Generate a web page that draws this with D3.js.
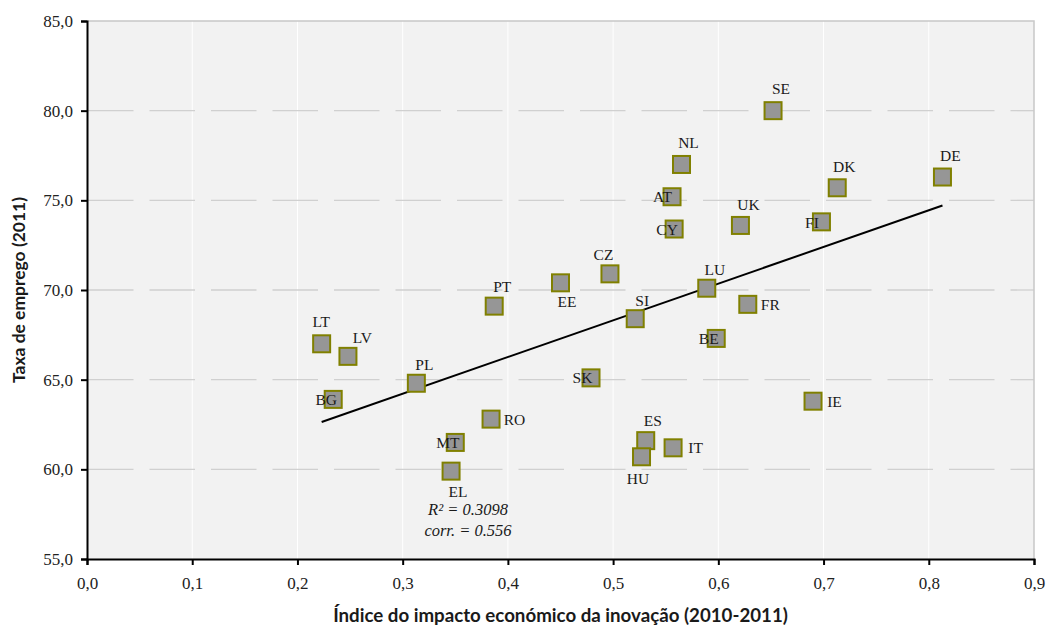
<!DOCTYPE html>
<html><head><meta charset="utf-8">
<script src="https://cdn.jsdelivr.net/npm/d3@7"></script>
<style>body{margin:0;background:#fff}svg{display:block}</style>
</head><body><svg id="c" width="1046" height="626"></svg>
<script>
const countries = ["SE","NL","DK","DE","AT","CY","UK","FI","CZ","EE","PT","LU","SI","FR","BE","LT","LV","PL","SK","BG","IE","RO","MT","EL","ES","HU","IT"];
const innovation = [0.652,0.565,0.713,0.813,0.556,0.558,0.621,0.698,0.497,0.450,0.387,0.589,0.521,0.628,0.598,0.223,0.248,0.313,0.479,0.234,0.690,0.384,0.350,0.346,0.531,0.527,0.557];
const employment = [80.0,77.0,75.7,76.3,75.2,73.4,73.6,73.8,70.9,70.4,69.1,70.1,68.4,69.2,67.3,67.0,66.3,64.8,65.1,63.9,63.8,62.8,61.5,59.9,61.6,60.7,61.2];
const xTicks = [0,0.1,0.2,0.3,0.4,0.5,0.6,0.7,0.8,0.9];
const yTicks = [55,60,65,70,75,80,85];
const statsText = ["R² = 0.3098","corr. = 0.556"];
const xTitle = "Índice do impacto económico da inovação (2010-2011)";
const yTitle = "Taxa de emprego (2011)";

// label placement (layout only): offset of label centre from marker centre
const labelOffset = {SE:[8,-22],NL:[7,-21.5],DK:[7,-21.5],DE:[8,-21.5],UK:[8,-21],AT:[-9.5,0],CY:[-7,0],FI:[-9.5,0.5],
 CZ:[-6.5,-19.5],PT:[8,-19.5],EE:[6.5,18.5],LU:[8,-18.5],SI:[7,-18.5],FR:[22.5,0],BE:[-7.5,0.5],LT:[-0.5,-22],LV:[14.5,-19],
 PL:[8,-19],SK:[-8.5,0],BG:[-7,0],IE:[21.5,0],RO:[23.5,0],MT:[-7.5,0],EL:[7,20.5],ES:[7,-20],HU:[-3.5,22],IT:[22.5,0]};

const svg = d3.select("#c");
const L=87, R=1034, T=21, B=559;
const x = d3.scaleLinear().domain([0,0.9]).range([L,R]);
const y = d3.scaleLinear().domain([55,85]).range([B,T]);
const fmt = v => d3.format(".1f")(v).replace(".",",");
const SERIF = "'Liberation Serif', 'Times New Roman', serif";

svg.append("rect").attr("x",L).attr("y",T).attr("width",R-L).attr("height",B-T).attr("fill","#f2f2f2");
svg.append("g").selectAll("line").data(xTicks.slice(1,-1)).join("line")
 .attr("x1",d=>x(d)).attr("x2",d=>x(d)).attr("y1",T).attr("y2",B).attr("stroke","#ffffff").attr("stroke-width",1);
svg.append("g").selectAll("line").data(yTicks.slice(1,-1)).join("line")
 .attr("x1",L+1).attr("x2",R).attr("y1",d=>y(d)).attr("y2",d=>y(d))
 .attr("stroke","#d0d0d0").attr("stroke-width",1.3).attr("stroke-dasharray","45.5,16");
svg.append("path").attr("d",`M${L},${T}H${R}V${B}`).attr("fill","none").attr("stroke","#c8c8c8").attr("stroke-width",1.5);

const yAxis = svg.append("g").attr("transform",`translate(${L},0)`)
 .call(d3.axisLeft(y).tickValues(yTicks).tickFormat(fmt).tickSize(6).tickPadding(8));
const xAxis = svg.append("g").attr("transform",`translate(0,${B})`)
 .call(d3.axisBottom(x).tickValues(xTicks).tickFormat(fmt).tickSize(6).tickPadding(12));
[yAxis,xAxis].forEach(g=>{
 g.attr("font-family",SERIF).attr("font-size",17);
 g.select(".domain").attr("stroke","#000").attr("stroke-width",2);
 g.selectAll(".tick line").attr("stroke","#000").attr("stroke-width",2);
 g.selectAll(".tick text").attr("font-family",SERIF).attr("font-size",17).attr("fill","#222");
});

const n = innovation.length;
const mx = d3.mean(innovation), my = d3.mean(employment);
let sxy=0,sxx=0; for(let i=0;i<n;i++){sxy+=(innovation[i]-mx)*(employment[i]-my);sxx+=(innovation[i]-mx)**2;}
const slope = sxy/sxx, icpt = my-slope*mx;
const xr = d3.extent(innovation);
svg.append("line").attr("x1",x(xr[0])).attr("y1",y(icpt+slope*xr[0])).attr("x2",x(xr[1])).attr("y2",y(icpt+slope*xr[1]))
 .attr("stroke","#000").attr("stroke-width",2);

const pts = countries.map((c,i)=>({c,x:innovation[i],y:employment[i]}));
svg.append("g").selectAll("rect").data(pts).join("rect")
 .attr("x",d=>x(d.x)-8.5).attr("y",d=>y(d.y)-8.5).attr("width",17).attr("height",17)
 .attr("fill","#969696").attr("stroke","#808000").attr("stroke-width",2);
svg.append("g").selectAll("text").data(pts).join("text")
 .attr("x",d=>x(d.x)+labelOffset[d.c][0]).attr("y",d=>y(d.y)+labelOffset[d.c][1])
 .attr("text-anchor","middle").attr("dominant-baseline","central")
 .attr("font-family",SERIF).attr("font-size",15.5).attr("fill","#1a1a1a").text(d=>d.c);

svg.append("g").selectAll("text").data(statsText).join("text")
 .attr("x",468).attr("y",(d,i)=>509.5+i*20.5).attr("text-anchor","middle").attr("dominant-baseline","central")
 .attr("font-family",SERIF).attr("font-style","italic").attr("font-size",16.5).attr("fill","#1a1a1a").text(d=>d);

function fit(sel,target){const w=sel.node().getComputedTextLength();const fs=+sel.attr("font-size");sel.attr("font-size",fs*target/w);}
const xt = svg.append("text").attr("x",(L+R)/2).attr("y",615).attr("text-anchor","middle").attr("dominant-baseline","central")
 .attr("font-family","Lato").attr("font-weight",700).attr("font-size",15).attr("fill","#1a1a1a").text(xTitle);
fit(xt,455);
const yt = svg.append("text").attr("transform",`translate(18,${(T+B)/2}) rotate(-90)`).attr("text-anchor","middle").attr("dominant-baseline","central")
 .attr("font-family","Lato").attr("font-weight",700).attr("font-size",15).attr("fill","#1a1a1a").text(yTitle);
fit(yt,186);
</script></body></html>
